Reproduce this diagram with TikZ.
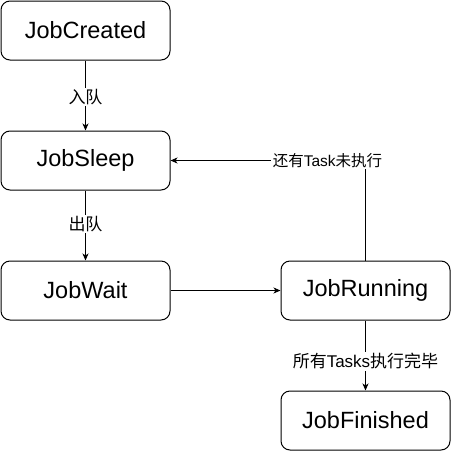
\documentclass[tikz,border=0pt]{standalone}
\usepackage{fontspec}
\setmainfont{Liberation Sans}
\newfontfamily\cjk{Noto Sans CJK SC}
\usetikzlibrary{arrows.meta}
\begin{document}
\begin{tikzpicture}[x=1pt,y=-1pt,
  state/.style={draw,line width=1pt,rounded corners=9pt,minimum width=169pt,minimum height=59pt,inner sep=0pt,font=\fontsize{23.5}{28}\selectfont},
  lbl/.style={fill=white,inner sep=1.5pt,font=\fontsize{17}{20}\selectfont},
  lblsmall/.style={lbl,font=\fontsize{15.5}{18}\selectfont},
  conn/.style={line width=1pt,-{Stealth[length=7pt,width=6pt,inset=2pt]}}]
\useasboundingbox[fill=white] (0,0) rectangle (451,451);
\node[state] (created) at (85.5,30.5) {JobCreated};
\node[state] (sleep) at (85.5,160.5) {JobSleep};
\node[state] (wait) at (85.5,290.5) {JobWait};
\node[state] (running) at (365.5,290.5) {JobRunning};
\node[state] (finished) at (365.5,420.5) {JobFinished};
\draw[conn] (created) -- node[lbl,pos=0.52] {{\cjk 入队}} (sleep);
\draw[conn] (sleep) -- node[lbl,pos=0.48] {{\cjk 出队}} (wait);
\draw[conn] (wait) -- (running);
\draw[conn] (running) -- node[lbl,pos=0.58] {{\cjk 所有}Tasks{\cjk 执行完毕}} (finished);
\coordinate (corner) at (running.north |- sleep.east);
\draw[conn] (running.north) -- (corner) -- (sleep.east);
\node[lblsmall] (fb) at (327.5,160.5) {{\cjk 还有}Task{\cjk 未执行}};
\end{tikzpicture}
\end{document}
